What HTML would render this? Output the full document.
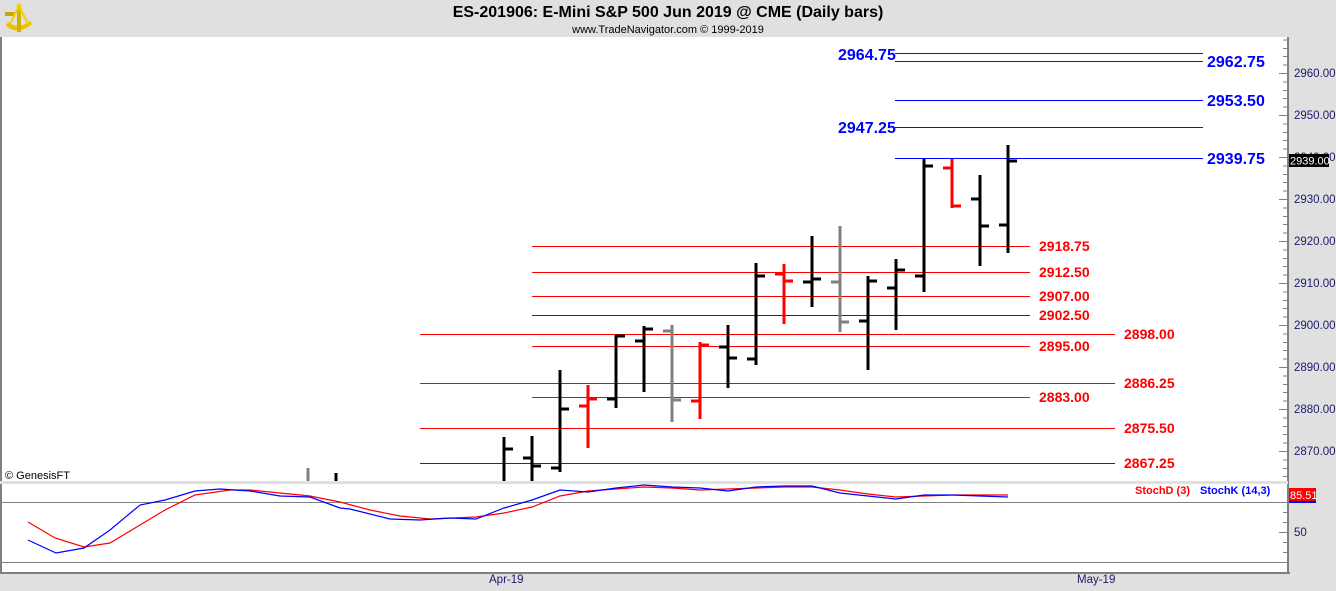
<!DOCTYPE html>
<html><head><meta charset="utf-8"><style>
html,body{margin:0;padding:0;background:#e0e0e0;}
svg{display:block;font-family:"Liberation Sans",Arial,sans-serif;}
</style></head><body>
<svg width="1336" height="591" viewBox="0 0 1336 591" xmlns="http://www.w3.org/2000/svg">
<rect x="0" y="0" width="1336" height="591" fill="#e0e0e0"/>
<g>
<path d="M6 26 Q18 36 32 24 L30 21 Q18 30 8 22 Z" fill="#e8c400"/>
<rect x="17" y="5" width="4" height="27" fill="#d4b000"/>
<rect x="5" y="12" width="10" height="4" fill="#c8a800"/>
<path d="M19 6 L10 24 M19 6 L28 24" stroke="#f0d000" stroke-width="2"/>
<circle cx="19" cy="6" r="2.5" fill="#f0d000"/>
</g>
<text x="668" y="17" text-anchor="middle" font-size="16" font-weight="bold" fill="#000">ES-201906:  E-Mini S&amp;P 500 Jun 2019 @ CME  (Daily bars)</text>
<text x="668" y="33" text-anchor="middle" font-size="11" fill="#000">www.TradeNavigator.com © 1999-2019</text>
<rect x="0" y="37" width="1288" height="444" fill="#fff"/>
<rect x="0" y="37" width="2" height="444" fill="#808080"/>
<rect x="0" y="484" width="1288" height="89" fill="#fff"/>
<rect x="0" y="484" width="2" height="89" fill="#808080"/>
<rect x="0" y="572" width="1290" height="2" fill="#808080"/>
<g shape-rendering="crispEdges">
<line x1="1288" y1="37" x2="1288" y2="574" stroke="#808080" stroke-width="2"/>
<line x1="0" y1="502.5" x2="1288" y2="502.5" stroke="#808080" stroke-width="1"/>
<line x1="0" y1="562.5" x2="1288" y2="562.5" stroke="#808080" stroke-width="1"/>
<line x1="1285.5" y1="39.4" x2="1285.5" y2="481" stroke="#808080" stroke-width="5" stroke-dasharray="1 7.4"/>
<g stroke="#808080" stroke-width="1">
<line x1="1279" y1="73.5" x2="1288" y2="73.5"/><line x1="1279" y1="115.5" x2="1288" y2="115.5"/>
<line x1="1279" y1="157.5" x2="1288" y2="157.5"/><line x1="1279" y1="199.5" x2="1288" y2="199.5"/>
<line x1="1279" y1="241.5" x2="1288" y2="241.5"/><line x1="1279" y1="283.5" x2="1288" y2="283.5"/>
<line x1="1279" y1="325.5" x2="1288" y2="325.5"/><line x1="1279" y1="367.5" x2="1288" y2="367.5"/>
<line x1="1279" y1="409.5" x2="1288" y2="409.5"/><line x1="1279" y1="451.5" x2="1288" y2="451.5"/>
<line x1="1279" y1="532.5" x2="1288" y2="532.5"/>
<line x1="1283" y1="512.5" x2="1288" y2="512.5"/><line x1="1283" y1="522.5" x2="1288" y2="522.5"/>
<line x1="1283" y1="542.5" x2="1288" y2="542.5"/><line x1="1283" y1="552.5" x2="1288" y2="552.5"/>
</g>
</g>
<g font-size="11.5" fill="#1a1a6e">
<text x="1294" y="77">2960.00</text><text x="1294" y="119">2950.00</text>
<text x="1294" y="161">2940.00</text><text x="1294" y="203">2930.00</text>
<text x="1294" y="245">2920.00</text><text x="1294" y="287">2910.00</text>
<text x="1294" y="329">2900.00</text><text x="1294" y="371">2890.00</text>
<text x="1294" y="413">2880.00</text><text x="1294" y="455">2870.00</text>
<text x="1294" y="536">50</text>
<text x="489" y="583">Apr-19</text><text x="1077" y="583">May-19</text>
</g>
<rect x="1289" y="154" width="40" height="13" fill="#000"/>
<text x="1290" y="164.5" font-size="11" fill="#fff">2939.00</text>
<rect x="1289" y="488" width="27" height="13" fill="#f00"/>
<rect x="1289" y="501" width="27" height="2" fill="#00f"/>
<text x="1290" y="499" font-size="11" fill="#fff">85.51</text>
<g stroke="#f00" stroke-width="1" shape-rendering="crispEdges">
<line x1="532" y1="246.5" x2="1030" y2="246.5"/><line x1="532" y1="272.5" x2="1030" y2="272.5"/>
<line x1="532" y1="296.5" x2="1030" y2="296.5"/>
<line x1="532" y1="315.5" x2="1030" y2="315.5" stroke="#a00000"/>
<line x1="420" y1="334.5" x2="1115" y2="334.5"/><line x1="532" y1="346.5" x2="1030" y2="346.5"/>
<line x1="420" y1="383.5" x2="1115" y2="383.5"/><line x1="532" y1="397.5" x2="1030" y2="397.5"/>
<line x1="420" y1="428.5" x2="1115" y2="428.5"/><line x1="420" y1="463.5" x2="1115" y2="463.5" stroke="#a00000"/>
</g>
<g font-size="14" font-weight="bold" fill="#f00">
<text x="1039" y="251">2918.75</text><text x="1039" y="277">2912.50</text>
<text x="1039" y="301">2907.00</text><text x="1039" y="320">2902.50</text>
<text x="1124" y="339">2898.00</text><text x="1039" y="351">2895.00</text>
<text x="1124" y="388">2886.25</text><text x="1039" y="402">2883.00</text>
<text x="1124" y="433">2875.50</text><text x="1124" y="468">2867.25</text>
</g>
<g stroke="#00f" stroke-width="1" shape-rendering="crispEdges">
<line x1="895" y1="53.5" x2="1203" y2="53.5" stroke="#222266"/><line x1="895" y1="61.5" x2="1203" y2="61.5" stroke="#222266"/>
<line x1="895" y1="100.5" x2="1203" y2="100.5"/><line x1="895" y1="127.5" x2="1203" y2="127.5" stroke="#222266"/>
<line x1="895" y1="158.5" x2="1203" y2="158.5"/>
</g>
<g font-size="16" font-weight="bold" fill="#00f">
<text x="838" y="60">2964.75</text><text x="1207" y="67">2962.75</text>
<text x="1207" y="106">2953.50</text><text x="838" y="133">2947.25</text>
<text x="1207" y="164">2939.75</text>
</g>
<g stroke-width="3" fill="none" shape-rendering="crispEdges">
<g stroke="#808080"><line x1="308" y1="468" x2="308" y2="481"/></g>
<g stroke="#000"><line x1="336" y1="473" x2="336" y2="481"/></g>
<g stroke="#000"><line x1="504" y1="437" x2="504" y2="481"/><line x1="504" y1="449" x2="513" y2="449"/></g>
<g stroke="#000"><line x1="532" y1="436" x2="532" y2="481"/><line x1="523" y1="458" x2="532" y2="458"/><line x1="532" y1="466" x2="541" y2="466"/></g>
<g stroke="#000"><line x1="560" y1="370" x2="560" y2="472"/><line x1="551" y1="468" x2="560" y2="468"/><line x1="560" y1="409" x2="569" y2="409"/></g>
<g stroke="#f00"><line x1="588" y1="385" x2="588" y2="448"/><line x1="579" y1="406" x2="588" y2="406"/><line x1="588" y1="399" x2="597" y2="399"/></g>
<g stroke="#000"><line x1="616" y1="335" x2="616" y2="408"/><line x1="607" y1="399" x2="616" y2="399"/><line x1="616" y1="336" x2="625" y2="336"/></g>
<g stroke="#000"><line x1="644" y1="326" x2="644" y2="392"/><line x1="635" y1="341" x2="644" y2="341"/><line x1="644" y1="329" x2="653" y2="329"/></g>
<g stroke="#808080"><line x1="672" y1="325" x2="672" y2="422"/><line x1="663" y1="331" x2="672" y2="331"/><line x1="672" y1="400" x2="681" y2="400"/></g>
<g stroke="#f00"><line x1="700" y1="342" x2="700" y2="419"/><line x1="691" y1="401" x2="700" y2="401"/><line x1="700" y1="345" x2="709" y2="345"/></g>
<g stroke="#000"><line x1="728" y1="325" x2="728" y2="388"/><line x1="719" y1="347" x2="728" y2="347"/><line x1="728" y1="358" x2="737" y2="358"/></g>
<g stroke="#000"><line x1="756" y1="263" x2="756" y2="365"/><line x1="747" y1="359" x2="756" y2="359"/><line x1="756" y1="276" x2="765" y2="276"/></g>
<g stroke="#f00"><line x1="784" y1="264" x2="784" y2="324"/><line x1="775" y1="274" x2="784" y2="274"/><line x1="784" y1="281" x2="793" y2="281"/></g>
<g stroke="#000"><line x1="812" y1="236" x2="812" y2="307"/><line x1="803" y1="282" x2="812" y2="282"/><line x1="812" y1="279" x2="821" y2="279"/></g>
<g stroke="#808080"><line x1="840" y1="226" x2="840" y2="332"/><line x1="831" y1="282" x2="840" y2="282"/><line x1="840" y1="322" x2="849" y2="322"/></g>
<g stroke="#000"><line x1="868" y1="276" x2="868" y2="370"/><line x1="859" y1="321" x2="868" y2="321"/><line x1="868" y1="281" x2="877" y2="281"/></g>
<g stroke="#000"><line x1="896" y1="259" x2="896" y2="330"/><line x1="887" y1="288" x2="896" y2="288"/><line x1="896" y1="270" x2="905" y2="270"/></g>
<g stroke="#000"><line x1="924" y1="159" x2="924" y2="292"/><line x1="915" y1="276" x2="924" y2="276"/><line x1="924" y1="166" x2="933" y2="166"/></g>
<g stroke="#f00"><line x1="952" y1="159" x2="952" y2="208"/><line x1="943" y1="168" x2="952" y2="168"/><line x1="952" y1="206" x2="961" y2="206"/></g>
<g stroke="#000"><line x1="980" y1="175" x2="980" y2="266"/><line x1="971" y1="199" x2="980" y2="199"/><line x1="980" y1="226" x2="989" y2="226"/></g>
<g stroke="#000"><line x1="1008" y1="145" x2="1008" y2="253"/><line x1="999" y1="225" x2="1008" y2="225"/><line x1="1008" y1="161" x2="1017" y2="161"/></g>
</g>
<text x="5" y="479" font-size="11" fill="#000">© GenesisFT</text>
<rect x="0" y="481" width="1288" height="3" fill="#e0e0e0"/>
<polyline fill="none" stroke="#f00" stroke-width="1.2" points="28,522 55,538 84,547 110,543 140,525 165,510 195,495 230,490 250,490 280,493 310,496 340,502 370,510 400,516 430,519 476,517 504,513 532,507 560,496 588,491 616,489 644,487 672,488 700,490 728,489 756,488 784,487 812,487 840,490 868,494 896,497 924,496 952,495 980,495 1008,495"/>
<polyline fill="none" stroke="#00f" stroke-width="1.2" points="28,540 56,553 84,548 110,530 140,505 165,500 195,491 220,489 250,491 280,496 310,497 340,508 350,509 390,519 420,520 450,518 476,519 504,508 532,500 560,490 588,492 616,488 644,485 672,487 700,488 728,491 756,487 784,486 812,486 840,493 868,496 896,499 924,495 952,495 980,496 1008,497"/>
<text x="1135" y="494" font-size="11" font-weight="bold" fill="#f00">StochD (3)</text>
<text x="1200" y="494" font-size="11" font-weight="bold" fill="#00f">StochK (14,3)</text>
</svg>
</body></html>
